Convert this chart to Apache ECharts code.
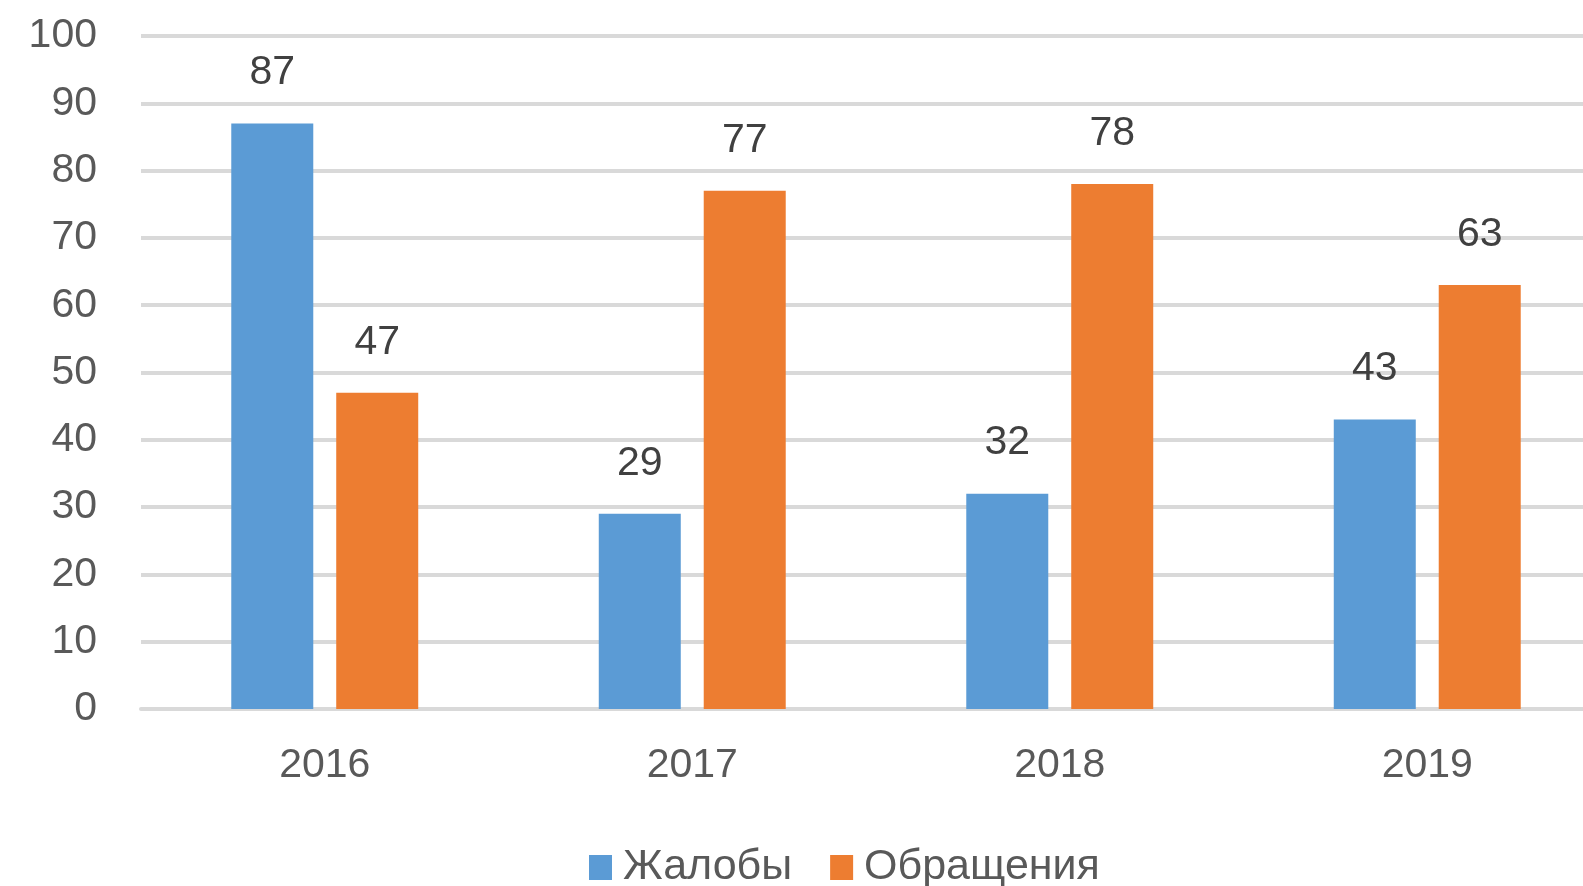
<!DOCTYPE html>
<html>
<head>
<meta charset="utf-8">
<script src="https://cdn.jsdelivr.net/npm/echarts@6/dist/echarts.min.js"></script>
<style>
html,body{margin:0;padding:0;background:#fff;}
#chart{width:1583px;height:886px;}
</style>
</head>
<body>
<div id="chart"></div>
<script>
const categories = ['2016', '2017', '2018', '2019'];
const complaints = [87, 29, 32, 43];
const appeals = [47, 77, 78, 63];
const seriesNames = ['Жалобы', 'Обращения'];

const FONT = '"Liberation Sans", Arial, sans-serif';
const chart = echarts.init(document.getElementById('chart'));
chart.setOption({
  animation: false,
  backgroundColor: '#ffffff',
  grid: { left: 141, top: 36, right: -28, bottom: 177, containLabel: false, outerBoundsMode: 'none' },
  legend: {
    data: seriesNames,
    left: 584,
    top: 841,
    icon: 'rect',
    itemWidth: 23,
    itemHeight: 25,
    itemGap: 38,
    textStyle: { fontFamily: FONT, fontSize: 43, color: '#595959', lineHeight: 43, padding: [0,0,0,6] }
  },
  xAxis: {
    type: 'category',
    data: categories,
    axisLine: { show: true, lineStyle: { color: '#D9D9D9', width: 4 } },
    axisTick: { show: false },
    axisLabel: { fontFamily: FONT, fontSize: 41, color: '#595959', margin: 36 }
  },
  yAxis: {
    type: 'value',
    min: 0, max: 100, interval: 10,
    axisLine: { show: false },
    axisTick: { show: false },
    splitLine: { lineStyle: { color: '#D9D9D9', width: 4 } },
    axisLabel: { fontFamily: FONT, fontSize: 41, color: '#595959', margin: 44, padding: [0,0,10,0] }
  },
  series: [
    {
      name: seriesNames[0], type: 'bar', data: complaints,
      barWidth: 82, barGap: '28%',
      itemStyle: { color: '#5B9BD5' },
      label: { show: true, position: 'top', distance: 30, fontFamily: FONT, fontSize: 41, color: '#404040' }
    },
    {
      name: seriesNames[1], type: 'bar', data: appeals,
      barWidth: 82, barGap: '28%',
      itemStyle: { color: '#ED7D31' },
      label: { show: true, position: 'top', distance: 30, fontFamily: FONT, fontSize: 41, color: '#404040' }
    }
  ]
});
</script>
</body>
</html>
